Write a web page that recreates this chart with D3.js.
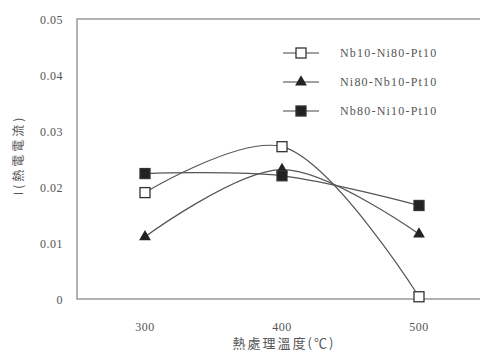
<!DOCTYPE html>
<html>
<head>
<meta charset="utf-8">
<script src="https://cdn.jsdelivr.net/npm/d3@7"></script>
<style>
  body { margin: 0; background: #fff; }
  svg text { font-family: "Liberation Serif", "DejaVu Serif", serif; fill: #555; }
  svg text.cjk { font-family: "Noto Sans CJK TC", "Noto Sans CJK SC", sans-serif; }
</style>
</head>
<body>
<div id="chart"></div>
<script>
const temps = [300, 400, 500];
const seriesNames = ["Nb10-Ni80-Pt10", "Ni80-Nb10-Pt10", "Nb80-Ni10-Pt10"];
const openSquare = [0.0190, 0.0272, 0.0004];
const triangle = [0.0111, 0.0231, 0.0116];
const filledSquare = [0.0224, 0.0220, 0.0167];
const yTicks = [0, 0.01, 0.02, 0.03, 0.04, 0.05];
const yTickLabels = ["0", "0.01", "0.02", "0.03", "0.04", "0.05"];

const width = 480, height = 358;
const margin = { top: 19, right: 0, bottom: 59, left: 77 };

const svg = d3.select("#chart").append("svg")
  .attr("width", width)
  .attr("height", height);

const x = d3.scaleLinear().domain([300, 500]).range([145, 419]);
const y = d3.scaleLinear().domain([0, 0.05]).range([height - margin.bottom, margin.top]);

// frame (top, left, bottom; no right edge)
svg.append("path")
  .attr("d", `M${width},${margin.top}H${margin.left}V${height - margin.bottom}H${width}`)
  .attr("fill", "none")
  .attr("stroke", "#9a9a9a")
  .attr("stroke-width", 1.5);

svg.selectAll(".ytick")
  .data(yTicks)
  .enter()
  .append("text")
  .attr("class", "ytick")
  .attr("x", 63)
  .attr("y", (d) => y(d) + 5)
  .attr("text-anchor", "end")
  .attr("font-size", 12)
  .attr("letter-spacing", 0.5)
  .text((d, i) => yTickLabels[i]);

svg.selectAll(".xtick")
  .data(temps)
  .enter()
  .append("text")
  .attr("class", "xtick")
  .attr("x", (d) => x(d))
  .attr("y", 331)
  .attr("text-anchor", "middle")
  .attr("font-size", 12)
  .attr("letter-spacing", 0.5)
  .text((d) => d);

svg.append("text")
  .attr("class", "cjk")
  .attr("x", 284)
  .attr("y", 348)
  .attr("text-anchor", "middle")
  .attr("font-size", 13)
  .attr("letter-spacing", 2)
  .text("熱處理溫度(℃)");

svg.append("text")
  .attr("class", "cjk")
  .attr("transform", "translate(23,155) rotate(-90)")
  .attr("text-anchor", "middle")
  .attr("font-size", 12)
  .attr("letter-spacing", 3)
  .text("I(熱電電流)");

const series = [
  { name: seriesNames[0], values: openSquare, shape: "square", fill: "#fff" },
  { name: seriesNames[1], values: triangle, shape: "triangle", fill: "#222" },
  { name: seriesNames[2], values: filledSquare, shape: "square", fill: "#222" },
];

const line = d3.line()
  .x((d) => x(d[0]))
  .y((d) => y(d[1]))
  .curve(d3.curveCatmullRom.alpha(0.5));

function marker(g, shape, fill) {
  if (shape === "square") {
    g.append("rect")
      .attr("x", -5).attr("y", -5)
      .attr("width", 10).attr("height", 10)
      .attr("fill", fill)
      .attr("stroke", "#333")
      .attr("stroke-width", 1.3);
  } else {
    g.append("path")
      .attr("d", d3.symbol(d3.symbolTriangle, 60)())
      .attr("fill", fill);
  }
}

series.forEach((s) => {
  const pts = temps.map((t, i) => [t, s.values[i]]);
  svg.append("path")
    .attr("d", line(pts))
    .attr("fill", "none")
    .attr("stroke", "#555")
    .attr("stroke-width", 1.2);
});

series.forEach((s) => {
  temps.forEach((t, i) => {
    const g = svg.append("g").attr("transform", `translate(${x(t)},${y(s.values[i])})`);
    marker(g, s.shape, s.fill);
  });
});

// legend
const legend = svg.append("g").attr("transform", "translate(283,53)");
series.forEach((s, i) => {
  const row = legend.append("g").attr("transform", `translate(0,${i * 29})`);
  row.append("line")
    .attr("x1", 0).attr("x2", 36)
    .attr("stroke", "#444")
    .attr("stroke-width", 1.2);
  const m = row.append("g").attr("transform", "translate(18,0)");
  marker(m, s.shape, s.fill);
  row.append("text")
    .attr("x", 57)
    .attr("y", 4)
    .attr("font-size", 12)
    .attr("letter-spacing", 1.2)
    .text(s.name);
});
</script>
</body>
</html>
